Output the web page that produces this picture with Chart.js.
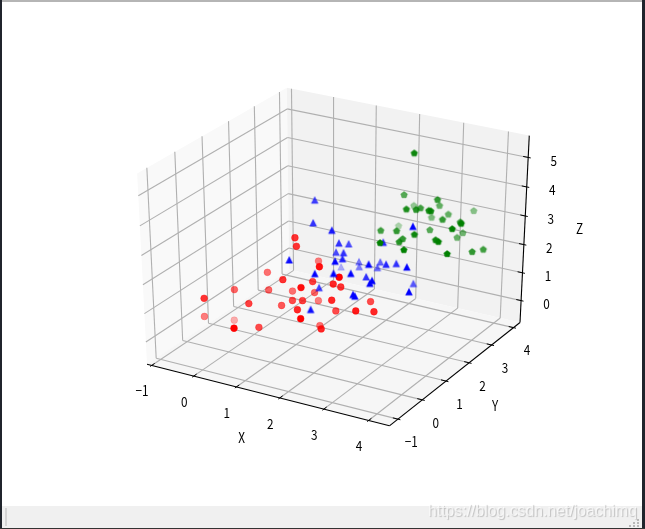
<!DOCTYPE html>
<html>
<head>
<meta charset="utf-8">
<title>3D scatter</title>
<script src="https://cdn.jsdelivr.net/npm/chart.js@4"></script>
<style>
html, body { margin: 0; padding: 0; background: #fff; width: 645px; height: 529px; overflow: hidden; }
#plot { position: absolute; left: 0; top: 0; }
.frame { position: absolute; }
#watermark { position: absolute; left: 428px; top: 501px; font: 15.8px/20px "Liberation Sans"; color: rgba(255,255,255,.65); text-shadow: 1px 1px 1px rgba(0,0,0,.2); white-space: nowrap; }
</style>
</head>
<body>
<canvas id="plot" width="645" height="529"></canvas>
<div class="frame" style="left:2px;top:0;width:641px;height:2px;background:#b5b5b5"></div>
<div class="frame" style="left:0;top:0;width:2px;height:529px;background:#20242c"></div>
<div class="frame" style="left:642px;top:0;width:3px;height:529px;background:#20242c"></div>
<div class="frame" style="left:2px;top:506px;width:640px;height:22px;background:#f0f0f0"></div>
<div class="frame" style="left:0;top:528px;width:645px;height:1px;background:#333"></div>
<div class="frame" style="left:5px;top:508px;width:2px;height:18px;background:#d4d4d4"></div>
<div id="watermark">https://blog.csdn.net/joachimq</div>
<script>
// values
const redX = [-0.17,-0.83,-0.22,-0.79,1.04,0.50,0.70,0.12,0.38,1.06,0.83,0.68,1.11,1.79,1.41,1.62,2.10,1.46,1.20,1.08,2.15,1.39,2.15,1.93,2.74,2.07,2.49,2.10,1.97,0.82,1.00,1.08,2.47,2.94];
const redY = [-0.59,0.42,0.63,1.50,-1.43,0.01,0.05,1.37,0.98,0.41,0.73,1.42,0.69,-0.12,0.58,0.02,-0.67,0.90,1.42,1.78,0.46,1.30,0.04,1.01,0.38,0.66,0.16,0.91,0.29,2.24,1.00,0.92,1.47,0.76];
const redZ = [1.41,-0.09,0.96,-0.88,1.33,1.10,0.31,1.25,0.95,1.89,0.71,0.75,1.01,2.19,1.18,1.28,1.57,1.67,0.88,0.33,1.53,-0.16,0.79,0.74,1.42,1.94,2.62,1.70,2.72,1.38,2.97,2.75,0.98,1.23];
const blueX = [1.03,1.27,1.88,1.47,1.84,1.77,1.61,1.98,2.12,2.37,1.59,1.63,0.83,2.95,2.11,2.42,2.71,2.52,1.66,2.14,2.88,2.92,3.46,2.71,2.20,2.19,2.90,2.95,3.61,3.11,3.09,3.03,3.80];
const blueY = [1.74,1.26,0.94,-0.02,1.29,1.81,1.58,1.23,0.94,0.21,2.56,2.50,3.16,0.51,-0.13,0.06,0.23,1.19,0.81,-0.35,0.02,0.02,1.35,1.53,2.35,2.25,1.31,1.64,0.85,0.36,0.31,2.23,0.60];
const blueZ = [3.85,3.42,3.55,2.96,2.90,2.55,2.34,2.65,2.66,3.09,1.43,1.30,0.63,3.01,2.78,2.78,2.78,2.03,1.58,1.70,2.25,2.21,3.97,3.08,1.75,1.61,2.52,2.37,2.94,2.60,2.53,1.35,2.32];
const greenX = [2.96,2.35,3.30,2.92,2.01,2.95,3.06,3.11,3.45,3.60,3.22,3.13,2.63,3.51,3.83,4.30,1.64,2.41,2.80,3.02,4.18,3.47,3.39,3.43,2.95,3.03,3.86,4.03,3.06,3.50,4.29,4.22,4.25];
const greenY = [2.29,3.04,2.67,3.50,4.11,2.62,1.82,2.13,2.02,1.82,4.45,3.49,3.72,2.50,2.65,1.76,4.15,1.97,1.91,2.91,1.62,1.40,3.65,3.32,1.89,1.60,1.55,1.34,0.76,0.92,2.79,2.44,1.30];
const greenZ = [5.73,3.74,4.08,3.30,2.67,3.71,4.15,3.98,4.12,4.26,2.69,3.07,2.67,3.57,3.50,4.11,1.81,3.13,3.28,2.82,3.97,3.67,2.42,2.46,3.07,3.16,3.53,3.65,3.62,3.44,2.64,2.74,3.34];

const xTicks = [-1, 0, 1, 2, 3, 4];
const yTicks = [-1, 0, 1, 2, 3, 4];
const zTicks = [0, 1, 2, 3, 4, 5];
const xLim = [-1.11, 4.46];
const yLim = [-1.34, 4.3];
const zLim = [-0.8, 5.73];

const FONT = '"Noto Sans CJK SC"';

// same camera as mplot3d default: elev 30, azim -60, dist 10
const U = [0.8660254, 0.5, 0];
const V = [-0.25, 0.4330127, 0.8660254];
const N = [0.4330127, -0.75, 0.5];
const ORIGIN_X = 336.4, ORIGIN_Y = 251, SCALE_X = 2798, SCALE_Y = 2180;
const RIM = 0.45; // rim alpha relative to the fill

function project(x, y, z) {
    const qx = (x - xLim[0]) / (xLim[1] - xLim[0]) - 0.5;
    const qy = (y - yLim[0]) / (yLim[1] - yLim[0]) - 0.5;
    const qz = (z - zLim[0]) / (zLim[1] - zLim[0]) - 0.5;
    const depth = N[0] * qx + N[1] * qy + N[2] * qz;
    const d = 10 - depth;
    return {
        x: ORIGIN_X + SCALE_X * (U[0] * qx + U[1] * qy) / d,
        y: ORIGIN_Y - SCALE_Y * (V[0] * qx + V[1] * qy + V[2] * qz) / d,
        depth: depth
    };
}

function polygonMarker(points, rgb, alpha) {
    const c = document.createElement('canvas');
    c.width = 14;
    c.height = 14;
    const g = c.getContext('2d');
    g.fillStyle = `rgba(${rgb},${alpha})`;
    g.strokeStyle = `rgba(${rgb},${alpha * RIM})`;
    g.lineWidth = 1;
    g.beginPath();
    points.forEach((p, i) => {
        if (i === 0) { g.moveTo(7 + p[0], 7 + p[1]); } else { g.lineTo(7 + p[0], 7 + p[1]); }
    });
    g.closePath();
    g.fill();
    g.stroke();
    return c;
}

const TRIANGLE = [[0, -3.5], [-3.4, 3.2], [3.4, 3.2]];
const PENTAGON = [0, 1, 2, 3, 4].map(i => {
    const r = -Math.PI / 2 + i * 2 * Math.PI / 5;
    return [3.5 * Math.cos(r), 3.5 * Math.sin(r)];
});

// depth shading: nearest point of a series is opaque, farthest 0.3
function scatterSeries(xs, ys, zs, rgb, shape) {
    const pts = xs.map((x, i) => project(x, ys[i], zs[i])).sort((a, b) => a.depth - b.depth);
    const lo = pts[0].depth, hi = pts[pts.length - 1].depth;
    const alphas = pts.map(p => 0.3 + 0.7 * (p.depth - lo) / (hi - lo));
    return {
        data: pts,
        showLine: false,
        pointRadius: 3.4,
        pointBorderWidth: 1,
        pointBackgroundColor: alphas.map(a => `rgba(${rgb},${a})`),
        pointBorderColor: alphas.map(a => `rgba(${rgb},${a * RIM})`),
        pointStyle: shape ? alphas.map(a => polygonMarker(shape, rgb, a)) : 'circle'
    };
}

function lineSeries(a, b, color, width) {
    return {
        data: [project(a[0], a[1], a[2]), project(b[0], b[1], b[2])],
        showLine: true,
        pointRadius: 0,
        borderColor: color,
        borderWidth: width
    };
}

const [x0, x1] = xLim, [y0, y1] = yLim, [z0, z1] = zLim;
const GRID = '#b0b0b0';
const xSpan = x1 - x0;
const lines = [];

xTicks.forEach(v => {
    lines.push(lineSeries([v, y0, z0], [v, y1, z0], GRID, 1.1));
    lines.push(lineSeries([v, y1, z0], [v, y1, z1], GRID, 1.1));
});
yTicks.forEach(v => {
    lines.push(lineSeries([x1, v, z0], [x0, v, z0], GRID, 1.1));
    lines.push(lineSeries([x0, v, z0], [x0, v, z1], GRID, 1.1));
});
zTicks.forEach(v => {
    lines.push(lineSeries([x0, y0, v], [x0, y1, v], GRID, 1.1));
    lines.push(lineSeries([x0, y1, v], [x1, y1, v], GRID, 1.1));
});

lines.push(lineSeries([x0, y0, z0], [x1, y0, z0], '#000', 1.1));
lines.push(lineSeries([x1, y0, z0], [x1, y1, z0], '#000', 1.1));
lines.push(lineSeries([x1, y1, z0], [x1, y1, z1], '#000', 1.1));

// tick marks cross the axis lines
const ySpan = y1 - y0;
xTicks.forEach(v => lines.push(lineSeries([v, y0 - 0.01 * ySpan, z0], [v, y0 + 0.02 * ySpan, z0], '#000', 1)));
yTicks.forEach(v => lines.push(lineSeries([x1 + 0.01 * xSpan, v, z0], [x1 - 0.02 * xSpan, v, z0], '#000', 1)));
zTicks.forEach(v => lines.push(lineSeries([x1 + 0.01 * xSpan, y1, v], [x1 - 0.02 * xSpan, y1, v], '#000', 1)));

const datasets = lines.concat([
    scatterSeries(redX, redY, redZ, '255,0,0', null),
    scatterSeries(blueX, blueY, blueZ, '0,0,255', TRIANGLE),
    scatterSeries(greenX, greenY, greenZ, '0,128,0', PENTAGON)
]).map((d, i) => Object.assign(d, {order: -i}));

const panes = [
    {color: '#f9f9f9', corners: [[x0, y0, z0], [x0, y1, z0], [x0, y1, z1], [x0, y0, z1]]},
    {color: '#f2f2f2', corners: [[x0, y1, z0], [x1, y1, z0], [x1, y1, z1], [x0, y1, z1]]},
    {color: '#f6f6f6', corners: [[x0, y0, z0], [x1, y0, z0], [x1, y1, z0], [x0, y1, z0]]}
];

const box3d = {
    id: 'box3d',
    beforeDatasetsDraw(chart) {
        const {ctx, scales} = chart;
        ctx.save();
        panes.forEach(pane => {
            ctx.fillStyle = pane.color;
            ctx.beginPath();
            pane.corners.forEach(c => {
                const p = project(c[0], c[1], c[2]);
                ctx.lineTo(scales.x.getPixelForValue(p.x), scales.y.getPixelForValue(p.y));
            });
            ctx.closePath();
            ctx.fill();
        });
        ctx.restore();
    },
    afterDatasetsDraw(chart) {
        const {ctx, scales} = chart;
        // the original font is narrow, squeeze the glyphs a bit
        const text = (label, p, dx, dy) => {
            ctx.save();
            ctx.translate(scales.x.getPixelForValue(p.x) + dx, scales.y.getPixelForValue(p.y) + dy);
            ctx.scale(0.84, 1);
            ctx.font = `14px ${FONT}`;
            ctx.fillText(label, 0, 0);
            ctx.restore();
        };
        const tickLabel = v => String(v).replace('-', '\u2212');
        ctx.save();
        ctx.fillStyle = '#000';
        ctx.textAlign = 'center';
        ctx.textBaseline = 'middle';
        xTicks.forEach(v => text(tickLabel(v), project(v, y0, z0), -9.5, 25.5));
        yTicks.forEach(v => text(tickLabel(v), project(x1, v, z0), 13.5, 22.5));
        zTicks.forEach(v => text(tickLabel(v), project(x1, y1, v), 25.5, 3));
        text('X', project((x0 + x1) / 2, y0, z0), -24, 43);
        text('Y', project(x1, (y0 + y1) / 2, z0), 38, 33);
        text('Z', project(x1, y1, (z0 + z1) / 2), 55, -3);
        ctx.restore();
    }
};

new Chart(document.getElementById('plot'), {
    type: 'scatter',
    data: {datasets: datasets},
    options: {
        responsive: false,
        animation: false,
        layout: {padding: 0, autoPadding: false},
        scales: {
            x: {display: false, min: 0, max: 645},
            y: {display: false, min: 0, max: 529, reverse: true}
        },
        plugins: {legend: {display: false}, tooltip: {enabled: false}}
    },
    plugins: [box3d]
});

// resize grip in the bottom right corner
[[637, 519], [633, 522], [637, 522], [629, 525], [633, 525], [637, 525]].forEach(p => {
    const dot = document.createElement('div');
    dot.className = 'frame';
    dot.style.cssText = `left:${p[0]}px;top:${p[1]}px;width:2px;height:2px;background:#b8b8b8`;
    document.body.appendChild(dot);
});
</script>
</body>
</html>
